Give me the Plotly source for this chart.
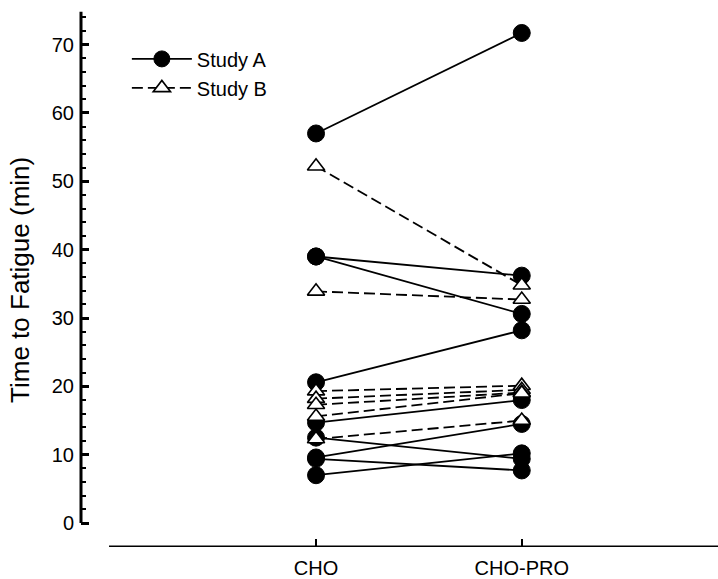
import plotly.graph_objects as go

conditions = ["CHO", "CHO-PRO"]
cond_pos = [0, 1]

# Study A (filled circles, solid lines): CHO value, CHO-PRO value per subject
study_a_cho = [57.0, 39.0, 39.0, 20.6, 14.7, 12.5, 9.6, 9.4, 7.0]
study_a_pro = [71.7, 36.2, 30.6, 28.2, 18.0, 9.4, 14.5, 7.7, 10.2]

# Study B (open triangles, dashed lines)
study_b_cho = [52.2, 33.9, 19.3, 18.2, 17.3, 15.6, 12.3]
study_b_pro = [34.8, 32.7, 20.1, 19.5, 19.1, 19.0, 15.0]

y_major = [0, 10, 20, 30, 40, 50, 60, 70]
y_minor = [v for v in range(2, 76, 2) if v % 10 != 0]

fig = go.Figure()

for i, (a, b) in enumerate(zip(study_a_cho, study_a_pro)):
    fig.add_trace(go.Scatter(
        x=cond_pos, y=[a, b], mode="lines+markers",
        name="Study A", legendgroup="A", showlegend=(i == 0),
        line=dict(color="black", width=1.8),
        marker=dict(symbol="circle", size=17, color="black",
                    line=dict(color="black", width=1)),
    ))

for i, (a, b) in enumerate(zip(study_b_cho, study_b_pro)):
    fig.add_trace(go.Scatter(
        x=cond_pos, y=[a, b], mode="lines+markers",
        name="Study B", legendgroup="B", showlegend=(i == 0),
        line=dict(color="black", width=1.8, dash="11px,5px"),
        marker=dict(symbol="triangle-up", size=15, color="white",
                    line=dict(color="black", width=1.6)),
    ))

font_family = "Liberation Sans, Arial, sans-serif"

fig.update_layout(
    width=718, height=579,
    margin=dict(l=81, r=0, t=7, b=32),
    paper_bgcolor="white", plot_bgcolor="white",
    font=dict(family=font_family, color="black", size=20),
    showlegend=True,
    legend=dict(x=0.072, y=0.94, xanchor="left", yanchor="top",
                bgcolor="rgba(0,0,0,0)", borderwidth=0,
                font=dict(size=20, family=font_family, color="black"),
                itemwidth=60, tracegroupgap=0, traceorder="normal"),
    xaxis=dict(range=[-1.1425, 1.954], tickmode="array", tickvals=cond_pos,
               ticktext=conditions, ticks="inside", ticklen=8, tickwidth=1.5,
               tickcolor="black", showline=False, showgrid=False,
               zeroline=False, ticklabelstandoff=7,
               tickfont=dict(size=20)),
    yaxis=dict(range=[-3.5, 75.5], tickmode="array", tickvals=y_major,
               ticks="inside", ticklen=8, tickwidth=2.5, tickcolor="black",
               showline=False, showgrid=False, zeroline=False,
               ticklabelstandoff=6, tickfont=dict(size=20),
               minor=dict(tickvals=y_minor, ticks="inside", ticklen=5,
                          tickwidth=1.5, tickcolor="black", showgrid=False)),
    annotations=[dict(text="Time to Fatigue (min)", textangle=-90,
                      xref="paper", yref="paper", x=-0.097, y=0.495,
                      xanchor="center", yanchor="middle", showarrow=False,
                      font=dict(size=26, family=font_family))],
    shapes=[
        dict(type="line", xref="paper", yref="y", x0=0, x1=0, y0=0, y1=74.8,
             line=dict(color="black", width=3)),
        dict(type="line", xref="paper", yref="y", x0=0.044, x1=1, y0=-3.5,
             y1=-3.5, line=dict(color="black", width=3)),
    ],
)

fig.write_html("out.html")
